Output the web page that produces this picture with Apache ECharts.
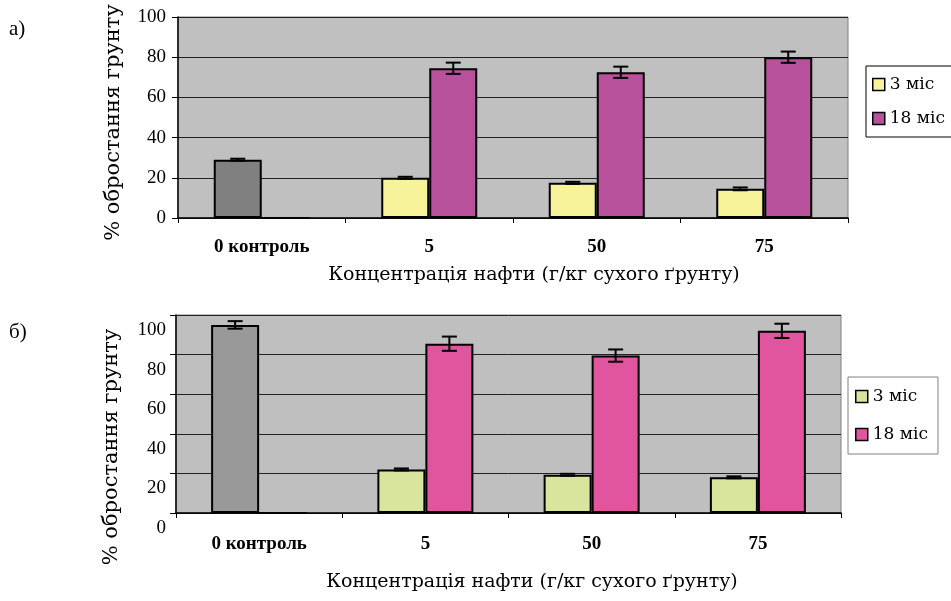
<!DOCTYPE html>
<html>
<head>
<meta charset="utf-8">
<script src="https://cdn.jsdelivr.net/npm/echarts@6/dist/echarts.min.js"></script>
<style>
  html, body { margin: 0; padding: 0; background: #fff; }
  #chartA { width: 951px; height: 300px; }
  #chartB { width: 951px; height: 301px; }
</style>
</head>
<body>
<div id="chartA"></div>
<div id="chartB"></div>
<script>
// категорії та тики
const categories = ['0 контроль', '5', '50', '75'];
const seriesNames = ['3 міс', '18 міс'];
const yTicks = [0, 20, 40, 60, 80, 100];

// а) середні значення та похибки
const topMean3 = [29, 20, 17.5, 14.5];
const topErr3 = [0.5, 0.5, 0.5, 0.7];
const topMean18 = [0, 74.5, 72.5, 80];
const topErr18 = [0, 2.8, 2.8, 2.8];

// б) середні значення та похибки
const botMean3 = [95, 22, 19.3, 18];
const botErr3 = [1.9, 0.5, 0.5, 0.5];
const botMean18 = [0, 85.5, 79.5, 92];
const botErr18 = [0, 3.6, 3.1, 3.6];

const FONT = '"Liberation Serif", "DejaVu Serif", serif';
const WIDE = '"DejaVu Serif", "Liberation Serif", serif';
const BAR_W = 48;
const CAP = 15;

function errorData(mean, err) {
  return mean.map((m, i) => [i, m - err[i], m + err[i]]);
}

function errorSeries(mean, err, offset) {
  return {
    type: 'custom',
    name: 'err' + offset,
    z: 5,
    encode: { x: 0, y: [1, 2] },
    data: errorData(mean, err),
    renderItem: function (params, api) {
      const lo = api.coord([api.value(0), api.value(1)]);
      const hi = api.coord([api.value(0), api.value(2)]);
      const x = lo[0] + offset;
      const st = { stroke: '#000', lineWidth: 2 };
      return {
        type: 'group',
        children: [
          { type: 'line', shape: { x1: x, y1: lo[1], x2: x, y2: hi[1] }, style: st },
          { type: 'line', shape: { x1: x - CAP / 2, y1: hi[1], x2: x + CAP / 2, y2: hi[1] }, style: st },
          { type: 'line', shape: { x1: x - CAP / 2, y1: lo[1], x2: x + CAP / 2, y2: lo[1] }, style: st }
        ]
      };
    }
  };
}

function buildOption(cfg) {
  const first = cfg.mean3.map((v, i) =>
    i === 0 ? { value: v, itemStyle: { color: cfg.ctrlColor } } : v
  );
  const yLabel = {
    margin: cfg.yLabelMargin,
    fontFamily: FONT,
    fontSize: 19,
    color: '#000'
  };
  if (cfg.yLabelDrop) {
    // у б) підписи зсунуті вниз відносно ліній сітки
    yLabel.verticalAlign = 'top';
    yLabel.lineHeight = cfg.yLabelDrop;
  }
  return {
    animation: false,
    title: {
      text: cfg.panel,
      left: 4,
      top: cfg.panelTop,
      textStyle: { fontFamily: FONT, fontSize: 21, fontWeight: 'normal', color: '#000' }
    },
    legend: {
      orient: 'vertical',
      left: cfg.legend.left,
      top: cfg.legend.top,
      padding: cfg.legend.padding,
      itemGap: cfg.legend.gap,
      itemWidth: 12,
      itemHeight: 12,
      icon: 'rect',
      borderColor: cfg.legend.border,
      borderWidth: 1,
      backgroundColor: '#fff',
      data: seriesNames,
      itemStyle: { borderColor: '#000', borderWidth: 1.5 },
      textStyle: { fontFamily: WIDE, fontSize: 17, color: '#000' }
    },
    grid: {
      left: cfg.grid.left,
      right: cfg.grid.right,
      top: cfg.grid.top,
      bottom: cfg.grid.bottom,
      show: true,
      backgroundColor: cfg.bg,
      borderColor: '#808080',
      borderWidth: 1
    },
    xAxis: {
      type: 'category',
      data: categories,
      name: 'Концентрація нафти (г/кг сухого ґрунту)',
      nameLocation: 'middle',
      nameGap: cfg.xNameGap,
      nameTextStyle: { fontFamily: WIDE, fontSize: 19, color: '#000', padding: [0, 0, 0, cfg.xNameShift] },
      axisLine: { lineStyle: { color: '#000', width: 1.5 } },
      axisTick: { show: true, length: 5, lineStyle: { color: '#000' } },
      axisLabel: { margin: cfg.catMargin, fontFamily: FONT, fontSize: 19, fontWeight: 'bold', color: '#000' },
      splitLine: { show: false }
    },
    yAxis: {
      type: 'value',
      min: yTicks[0],
      max: yTicks[yTicks.length - 1],
      interval: yTicks[1] - yTicks[0],
      name: '% обростання грунту',
      nameLocation: 'middle',
      nameGap: 54,
      nameTextStyle: { fontFamily: WIDE, fontSize: 21, color: '#000', padding: [0, cfg.yNameShift, 0, 0] },
      axisLine: { show: true, lineStyle: { color: '#000', width: 1.5 } },
      axisTick: { show: true, length: 6, lineStyle: { color: '#000' } },
      axisLabel: yLabel,
      splitLine: { lineStyle: { color: '#222', width: 1 } }
    },
    series: [
      {
        name: seriesNames[0],
        type: 'bar',
        barWidth: BAR_W,
        barGap: '0%',
        itemStyle: { color: cfg.c3, borderColor: '#000', borderWidth: 2 },
        data: first
      },
      {
        name: seriesNames[1],
        type: 'bar',
        barWidth: BAR_W,
        barGap: '0%',
        itemStyle: { color: cfg.c18, borderColor: '#000', borderWidth: 2 },
        data: cfg.mean18
      },
      errorSeries(cfg.mean3, cfg.err3, -BAR_W / 2),
      errorSeries(cfg.mean18, cfg.err18, BAR_W / 2)
    ]
  };
}

const chartA = echarts.init(document.getElementById('chartA'));
chartA.setOption(buildOption({
  panel: 'а)',
  panelTop: 14,
  mean3: topMean3, err3: topErr3, mean18: topMean18, err18: topErr18,
  ctrlColor: '#808080', c3: '#f7f39b', c18: '#b9529d',
  bg: '#c0c0c0',
  grid: { left: 178, right: 103, top: 17, bottom: 82 },
  legend: { left: 866, top: 66, padding: [10, 14, 10, 6], gap: 17, border: '#000' },
  xNameGap: 48, xNameShift: 42,
  catMargin: 20,
  yLabelMargin: 12, yLabelDrop: 0, yNameShift: 10
}));

const chartB = echarts.init(document.getElementById('chartB'));
chartB.setOption(buildOption({
  panel: 'б)',
  panelTop: 17,
  mean3: botMean3, err3: botErr3, mean18: botMean18, err18: botErr18,
  ctrlColor: '#999999', c3: '#d9e59d', c18: '#e1549e',
  bg: '#bfbfbf',
  grid: { left: 176, right: 110, top: 15, bottom: 88 },
  legend: { left: 848, top: 77, padding: [11, 10, 11, 7], gap: 21, border: '#808080' },
  xNameGap: 60, xNameShift: 47,
  catMargin: 22,
  yLabelMargin: 10, yLabelDrop: 30, yNameShift: 66
}));
</script>
</body>
</html>
